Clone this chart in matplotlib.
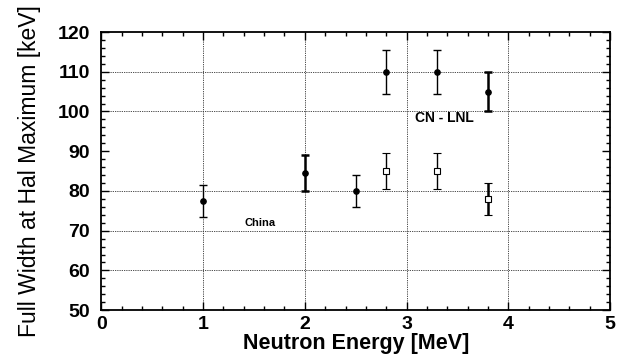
import numpy as np
import matplotlib.pyplot as plt
from matplotlib.ticker import MultipleLocator

plt.rcParams.update({
    "font.family": "Liberation Sans",
    "xtick.direction": "in",
    "ytick.direction": "in",
})

# filled circles
energy_a = [1.0, 2.0, 2.5, 2.8, 3.3, 3.8]
fwhm_a = [77.5, 84.5, 80.0, 110.0, 110.0, 105.0]
err_a = [4.0, 4.5, 4.0, 5.5, 5.5, 5.0]

# open squares
energy_b = [2.8, 3.3, 3.8]
fwhm_b = [85.0, 85.0, 78.0]
err_b = [4.5, 4.5, 4.0]

grid_y = [60, 70, 80, 100, 110]
grid_x = [1, 2, 3, 4]

lw_a = [1.0, 1.8, 1.0, 1.0, 1.0, 1.8]
lw_b = [1.0, 1.0, 1.8]

fig = plt.figure(figsize=(6.33, 3.64), dpi=100)
ax = fig.add_axes([0.16, 0.148, 0.804, 0.764])

for y in grid_y:
    ax.axhline(y, color="#333333", lw=0.6, ls=(0, (1.5, 1.2)), zorder=0)
for x in grid_x:
    ax.axvline(x, color="#333333", lw=0.6, ls=(0, (1.5, 1.2)), zorder=0)

for x, y, e, lw in zip(energy_a, fwhm_a, err_a, lw_a):
    ax.errorbar(x, y, yerr=e, fmt="o", color="black", ms=3.8, elinewidth=lw,
                capsize=3, capthick=lw)
for x, y, e, lw in zip(energy_b, fwhm_b, err_b, lw_b):
    ax.errorbar(x, y, yerr=e, fmt="s", color="black", mfc="white", ms=4.5,
                mew=0.8, elinewidth=lw, capsize=3, capthick=lw)

ax.text(1.41, 71.9, "China", fontsize=8, fontweight="bold", va="center")
ax.text(3.08, 98.3, "CN - LNL", fontsize=10, fontweight="bold", va="center")

ax.set_xlim(0, 5)
ax.set_ylim(50, 120)
ax.xaxis.set_major_locator(MultipleLocator(1))
ax.xaxis.set_minor_locator(MultipleLocator(0.2))
ax.yaxis.set_major_locator(MultipleLocator(10))
ax.yaxis.set_minor_locator(MultipleLocator(2))
ax.tick_params(which="both", top=True, right=True, labelsize=14, width=1)
ax.tick_params(axis="y", pad=8)
ax.tick_params(axis="x", pad=4)
ax.tick_params(which="major", length=6)
ax.tick_params(which="minor", length=3)
for lab in ax.get_xticklabels() + ax.get_yticklabels():
    lab.set_fontweight("bold")
for s in ax.spines.values():
    s.set_linewidth(1.3)

ax.set_xlabel("Neutron Energy [MeV]", fontsize=15.5, fontweight="bold", labelpad=0)
ax.set_ylabel("Full Width at Hal Maximum [keV]", fontsize=16.5, labelpad=12)

fig.savefig("out.png", dpi=100)
